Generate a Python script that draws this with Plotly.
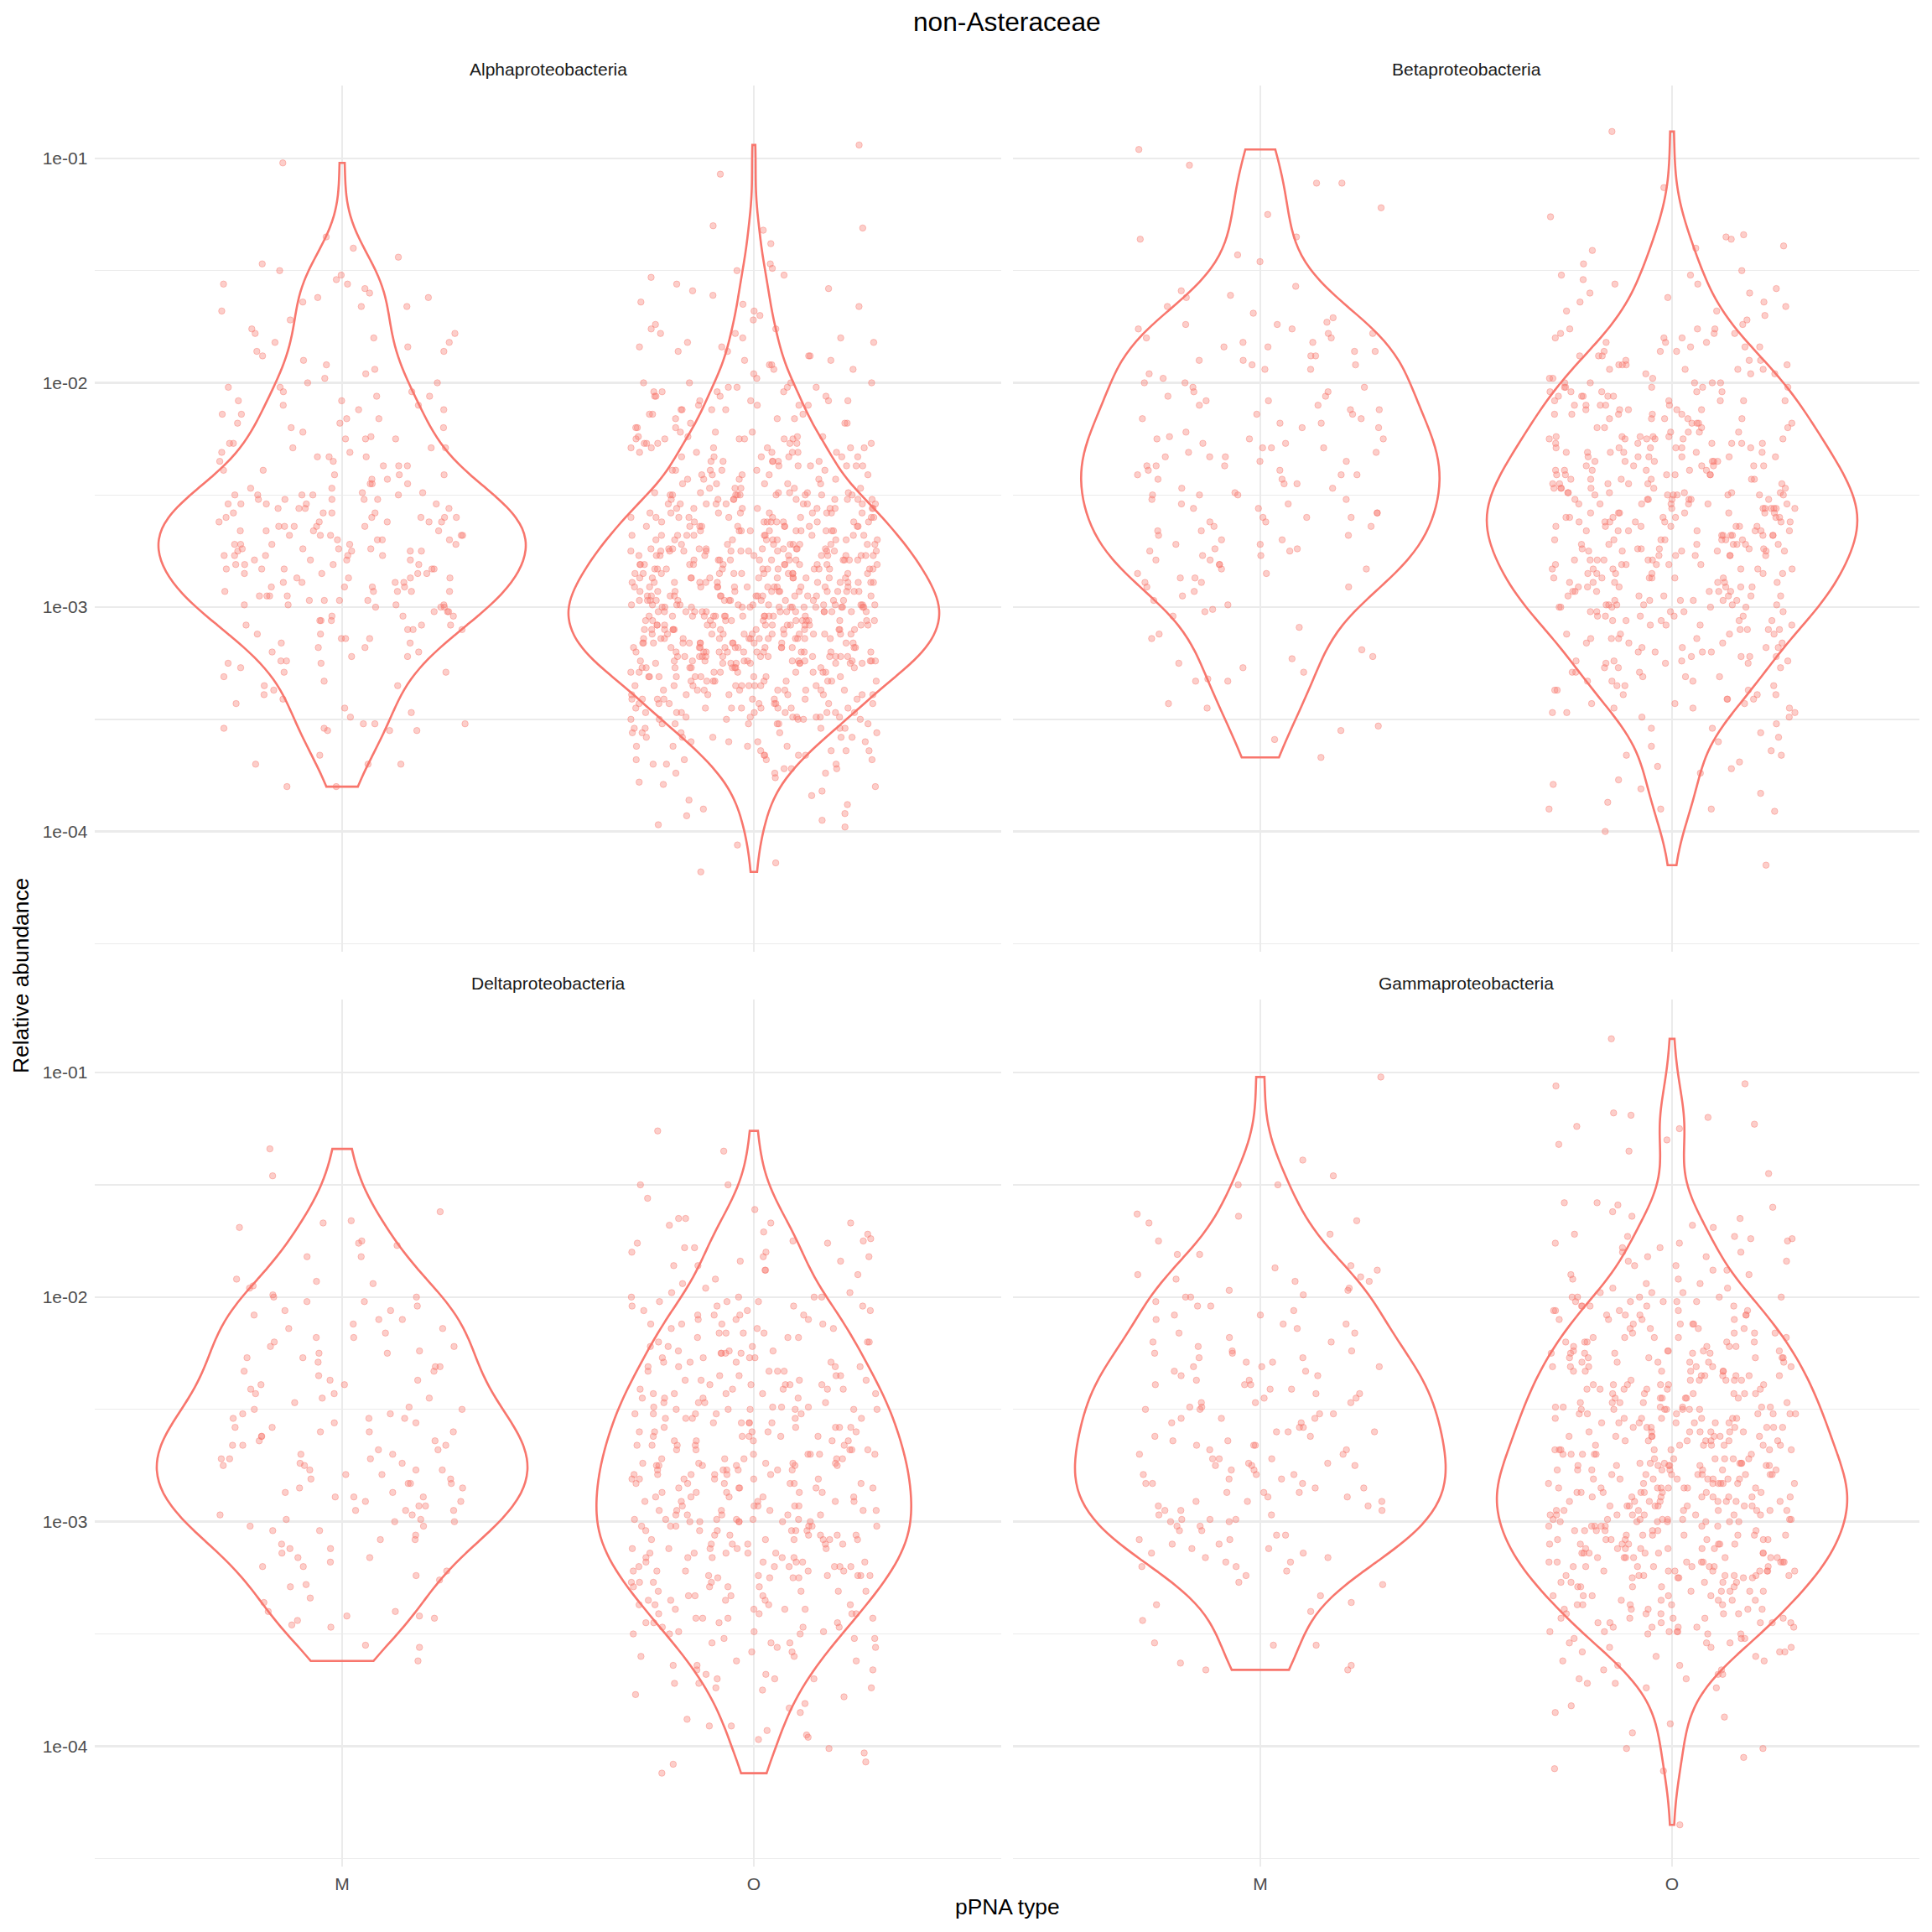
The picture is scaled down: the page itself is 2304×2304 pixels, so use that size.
import numpy as np
import plotly.graph_objects as go

# ---------------- data (log10 relative abundance, number of samples at that level) ----------------
facets = ["Alphaproteobacteria", "Betaproteobacteria", "Deltaproteobacteria", "Gammaproteobacteria"]
categories = ["M", "O"]
y_tickvals = [-4, -3, -2, -1]
y_ticktext = ["1e-04", "1e-03", "1e-02", "1e-01"]
y_minor = [-4.5, -3.5, -2.5, -1.5]

alpha_M = [
 (-1.02,1),(-1.35,1),(-1.40,1),(-1.44,1),(-1.47,1),
 (-1.50,1),(-1.52,1),(-1.54,1),(-1.56,2),(-1.58,1),(-1.60,1),(-1.62,2),(-1.64,1),(-1.66,2),(-1.68,1),(-1.72,1),
 (-1.76,1),(-1.78,2),(-1.80,1),(-1.82,2),(-1.84,1),(-1.86,2),(-1.88,1),(-1.90,1),(-1.92,1),(-1.94,1),(-1.96,1),(-1.98,1),
 (-2.00,2),(-2.02,2),(-2.04,2),(-2.06,2),(-2.08,2),(-2.10,2),(-2.12,2),(-2.14,2),(-2.16,2),(-2.18,2),(-2.20,2),(-2.22,1),(-2.24,1),
 (-2.25,3),(-2.27,2),(-2.29,3),(-2.31,2),(-2.33,3),(-2.35,2),(-2.37,3),(-2.39,2),(-2.41,3),(-2.43,2),(-2.45,3),(-2.47,2),(-2.49,2),
 (-2.50,5),(-2.52,5),(-2.54,5),(-2.56,4),(-2.58,4),(-2.60,5),(-2.62,5),(-2.64,5),(-2.66,4),(-2.68,5),(-2.70,4),(-2.72,5),(-2.74,4),
 (-2.75,4),(-2.77,5),(-2.79,4),(-2.81,4),(-2.83,5),(-2.85,4),(-2.87,4),(-2.89,4),(-2.91,4),(-2.93,5),(-2.95,4),(-2.97,4),(-2.99,4),
 (-3.00,3),(-3.02,3),(-3.04,3),(-3.06,3),(-3.08,3),(-3.10,3),(-3.12,2),(-3.14,3),(-3.16,2),(-3.18,2),(-3.20,2),(-3.22,2),(-3.24,2),
 (-3.25,2),(-3.27,1),(-3.29,2),(-3.31,1),(-3.33,1),(-3.35,2),(-3.37,1),(-3.39,1),(-3.41,1),(-3.43,1),(-3.45,1),(-3.47,1),(-3.49,1),
 (-3.52,3),(-3.54,2),(-3.55,3),(-3.66,1),(-3.70,3),(-3.80,2),
]

alpha_O = [
 (-0.94,1),(-1.07,1),
 (-1.30,1),(-1.31,1),(-1.32,1),(-1.38,1),(-1.47,1),(-1.49,1),(-1.50,1),
 (-1.52,1),(-1.53,1),(-1.56,1),(-1.58,1),(-1.59,1),(-1.61,1),(-1.64,1),(-1.65,1),(-1.66,1),(-1.68,1),(-1.70,1),(-1.72,1),(-1.74,1),
 (-1.76,2),(-1.78,2),(-1.80,2),(-1.82,2),(-1.84,2),(-1.86,2),(-1.88,2),(-1.90,2),(-1.92,2),(-1.94,2),(-1.96,1),(-1.98,1),
 (-2.00,4),(-2.02,4),(-2.04,4),(-2.06,4),(-2.08,4),(-2.10,4),(-2.12,4),(-2.14,3),(-2.16,3),(-2.18,3),(-2.20,3),(-2.22,3),(-2.24,4),
 (-2.25,6),(-2.27,6),(-2.29,6),(-2.31,6),(-2.33,6),(-2.35,6),(-2.37,6),(-2.39,6),(-2.41,5),(-2.43,5),(-2.45,5),(-2.47,5),(-2.49,6),
 (-2.50,9),(-2.52,9),(-2.54,9),(-2.56,9),(-2.58,9),(-2.60,9),(-2.62,10),(-2.64,10),(-2.66,10),(-2.68,10),(-2.70,9),(-2.72,9),(-2.74,10),
 (-2.75,12),(-2.77,12),(-2.79,12),(-2.81,12),(-2.83,12),(-2.85,12),(-2.87,12),(-2.89,12),(-2.91,13),(-2.93,13),(-2.95,13),(-2.97,13),(-2.99,12),
 (-3.00,14),(-3.02,14),(-3.04,14),(-3.06,13),(-3.08,13),(-3.10,13),(-3.12,13),(-3.14,13),(-3.16,13),(-3.18,13),(-3.20,13),(-3.22,13),(-3.24,13),
 (-3.25,10),(-3.27,10),(-3.29,9),(-3.31,9),(-3.33,9),(-3.35,9),(-3.37,9),(-3.39,8),(-3.41,8),(-3.43,8),(-3.45,8),(-3.47,8),(-3.49,7),
 (-3.50,6),(-3.52,6),(-3.54,5),(-3.56,5),(-3.58,5),(-3.60,4),(-3.62,4),(-3.64,4),(-3.66,4),(-3.68,4),(-3.70,3),(-3.72,3),(-3.74,3),
 (-3.76,1),(-3.78,1),(-3.79,1),(-3.80,1),(-3.82,1),(-3.84,1),(-3.86,1),(-3.88,1),(-3.90,1),(-3.92,1),(-3.93,1),(-3.95,1),(-3.97,1),(-3.98,1),
 (-4.06,1),(-4.14,1),(-4.18,1),
]

beta_M = [
 (-0.96,1),(-1.03,1),(-1.11,2),(-1.22,1),(-1.25,1),
 (-1.35,1),(-1.36,1),(-1.43,1),(-1.46,1),
 (-1.57,1),(-1.59,1),(-1.61,1),(-1.62,1),(-1.66,1),(-1.69,1),(-1.71,1),(-1.73,1),(-1.74,2),
 (-1.76,2),(-1.78,2),(-1.80,2),(-1.82,2),(-1.84,2),(-1.86,2),(-1.88,2),(-1.90,2),(-1.92,2),(-1.94,2),(-1.96,1),(-1.98,1),
 (-2.00,2),(-2.02,2),(-2.04,2),(-2.06,2),(-2.08,2),(-2.10,2),(-2.12,2),(-2.14,2),(-2.16,2),(-2.18,2),(-2.20,2),(-2.22,1),(-2.24,1),
 (-2.25,3),(-2.27,2),(-2.29,3),(-2.31,2),(-2.33,3),(-2.35,2),(-2.37,3),(-2.39,2),(-2.41,3),(-2.43,2),(-2.45,2),(-2.47,2),(-2.49,1),
 (-2.50,3),(-2.52,2),(-2.54,2),(-2.56,2),(-2.58,2),(-2.60,3),(-2.62,2),(-2.64,2),(-2.66,2),(-2.68,2),(-2.70,2),(-2.72,2),(-2.74,2),
 (-2.75,2),(-2.77,2),(-2.79,2),(-2.81,2),(-2.83,2),(-2.85,2),(-2.87,2),(-2.89,2),(-2.91,2),(-2.93,1),(-2.95,1),(-2.97,1),(-2.99,1),
 (-3.01,1),(-3.02,1),(-3.04,1),(-3.09,1),(-3.12,1),(-3.14,1),(-3.19,1),(-3.22,1),(-3.23,1),(-3.25,1),
 (-3.27,1),(-3.29,1),(-3.32,1),(-3.33,2),(-3.43,1),(-3.45,1),
 (-3.53,1),(-3.55,1),(-3.59,1),(-3.67,1),
]

beta_O = [
 (-0.88,1),(-1.13,1),
 (-1.26,1),(-1.34,1),(-1.35,1),(-1.36,1),(-1.39,1),(-1.40,1),(-1.41,1),(-1.47,1),(-1.50,1),
 (-1.52,2),(-1.54,1),(-1.56,2),(-1.58,1),(-1.60,2),(-1.62,1),(-1.64,2),(-1.66,1),(-1.68,2),(-1.70,1),(-1.72,1),(-1.74,1),
 (-1.76,3),(-1.78,3),(-1.80,3),(-1.82,3),(-1.84,3),(-1.86,3),(-1.88,3),(-1.90,3),(-1.92,4),(-1.94,4),(-1.96,3),(-1.98,3),
 (-2.00,5),(-2.02,5),(-2.04,5),(-2.06,5),(-2.08,5),(-2.10,5),(-2.12,5),(-2.14,5),(-2.16,5),(-2.18,4),(-2.20,4),(-2.22,4),(-2.24,5),
 (-2.25,6),(-2.27,6),(-2.29,6),(-2.31,6),(-2.33,6),(-2.35,6),(-2.37,6),(-2.39,6),(-2.41,6),(-2.43,6),(-2.45,6),(-2.47,6),(-2.49,6),
 (-2.50,7),(-2.52,7),(-2.54,7),(-2.56,7),(-2.58,7),(-2.60,7),(-2.62,7),(-2.64,7),(-2.66,7),(-2.68,7),(-2.70,7),(-2.72,7),(-2.74,6),
 (-2.75,6),(-2.77,6),(-2.79,6),(-2.81,6),(-2.83,6),(-2.85,6),(-2.87,6),(-2.89,6),(-2.91,6),(-2.93,6),(-2.95,6),(-2.97,6),(-2.99,6),
 (-3.00,5),(-3.02,5),(-3.04,5),(-3.06,5),(-3.08,4),(-3.10,4),(-3.12,4),(-3.14,4),(-3.16,4),(-3.18,4),(-3.20,4),(-3.22,4),(-3.24,4),
 (-3.25,3),(-3.27,3),(-3.29,3),(-3.31,3),(-3.33,3),(-3.35,3),(-3.37,3),(-3.39,3),(-3.41,3),(-3.43,3),(-3.45,3),(-3.47,3),(-3.49,2),
 (-3.52,1),(-3.54,2),(-3.56,1),(-3.58,1),(-3.60,1),(-3.62,1),(-3.64,1),(-3.66,2),(-3.69,1),(-3.71,1),(-3.72,1),(-3.74,1),
 (-3.77,1),(-3.79,1),(-3.81,1),(-3.83,1),(-3.87,1),(-3.90,3),(-3.91,1),
 (-4.00,1),(-4.15,1),
]

delta_M = [
 (-1.34,1),(-1.46,1),
 (-1.62,1),(-1.66,1),(-1.67,1),(-1.69,1),(-1.75,1),
 (-1.76,1),(-1.77,1),(-1.82,2),(-1.92,1),(-1.93,1),(-1.94,1),(-1.95,1),(-1.96,1),(-1.99,1),
 (-2.00,2),(-2.02,2),(-2.04,1),(-2.06,2),(-2.08,1),(-2.10,2),(-2.12,1),(-2.14,2),(-2.16,1),(-2.18,2),(-2.20,1),(-2.22,2),(-2.24,1),
 (-2.25,2),(-2.27,2),(-2.29,1),(-2.31,2),(-2.33,2),(-2.35,1),(-2.37,2),(-2.39,2),(-2.41,1),(-2.43,2),(-2.45,2),(-2.47,1),(-2.49,1),
 (-2.50,2),(-2.52,2),(-2.54,3),(-2.56,2),(-2.58,2),(-2.60,3),(-2.62,2),(-2.64,2),(-2.66,3),(-2.68,2),(-2.70,2),(-2.72,3),(-2.74,2),
 (-2.75,2),(-2.77,3),(-2.79,2),(-2.81,2),(-2.83,3),(-2.85,2),(-2.87,2),(-2.89,3),(-2.91,2),(-2.93,2),(-2.95,3),(-2.97,2),(-2.99,2),
 (-3.00,2),(-3.02,2),(-3.04,2),(-3.06,1),(-3.08,2),(-3.10,1),(-3.12,2),(-3.14,1),(-3.16,2),(-3.18,1),(-3.20,2),(-3.22,1),(-3.24,1),
 (-3.26,1),(-3.28,1),(-3.29,1),(-3.34,1),(-3.36,1),(-3.40,2),(-3.42,2),(-3.43,1),(-3.44,1),(-3.46,1),(-3.47,1),
 (-3.55,1),(-3.56,1),(-3.62,1),
]

delta_O = [
 (-1.26,1),(-1.35,1),(-1.50,2),
 (-1.56,1),(-1.61,1),(-1.65,2),(-1.67,2),(-1.68,1),(-1.71,1),(-1.72,1),(-1.74,1),(-1.75,2),
 (-1.76,2),(-1.78,2),(-1.80,2),(-1.82,2),(-1.84,2),(-1.86,2),(-1.88,2),(-1.90,1),(-1.92,1),(-1.94,1),(-1.96,1),(-1.98,2),
 (-2.00,4),(-2.02,3),(-2.04,4),(-2.06,3),(-2.08,4),(-2.10,3),(-2.12,4),(-2.14,3),(-2.16,4),(-2.18,3),(-2.20,3),(-2.22,3),(-2.24,3),
 (-2.25,4),(-2.27,4),(-2.29,4),(-2.31,4),(-2.33,4),(-2.35,4),(-2.37,4),(-2.39,5),(-2.41,5),(-2.43,5),(-2.45,4),(-2.47,4),(-2.49,4),
 (-2.50,6),(-2.52,5),(-2.54,5),(-2.56,5),(-2.58,5),(-2.60,5),(-2.62,5),(-2.64,5),(-2.66,5),(-2.68,5),(-2.70,5),(-2.72,5),(-2.74,5),
 (-2.75,6),(-2.77,6),(-2.79,6),(-2.81,6),(-2.83,6),(-2.85,5),(-2.87,5),(-2.89,5),(-2.91,5),(-2.93,5),(-2.95,6),(-2.97,5),(-2.99,6),
 (-3.00,6),(-3.02,6),(-3.04,6),(-3.06,6),(-3.08,6),(-3.10,5),(-3.12,5),(-3.14,5),(-3.16,5),(-3.18,5),(-3.20,6),(-3.22,5),(-3.24,6),
 (-3.25,4),(-3.27,4),(-3.29,4),(-3.31,4),(-3.33,4),(-3.35,4),(-3.37,4),(-3.39,4),(-3.41,4),(-3.43,4),(-3.45,4),(-3.47,3),(-3.49,3),
 (-3.50,3),(-3.52,3),(-3.54,3),(-3.56,2),(-3.58,2),(-3.60,2),(-3.62,2),(-3.64,2),(-3.66,2),(-3.68,2),(-3.70,3),(-3.72,2),(-3.74,2),
 (-3.75,1),(-3.77,1),(-3.78,1),(-3.81,1),(-3.83,1),(-3.85,1),(-3.88,1),(-3.91,2),(-3.93,1),(-3.95,1),(-3.96,1),(-3.97,1),
 (-4.01,1),(-4.03,1),(-4.07,1),(-4.08,1),(-4.12,1),
]

gamma_M = [
 (-1.02,1),(-1.39,1),(-1.46,1),(-1.50,2),
 (-1.63,1),(-1.64,1),(-1.66,1),(-1.67,1),(-1.72,1),(-1.75,1),
 (-1.81,2),(-1.86,1),(-1.87,1),(-1.88,1),(-1.90,1),(-1.91,1),(-1.92,1),(-1.93,2),(-1.96,1),(-1.97,2),(-1.99,1),
 (-2.00,2),(-2.02,1),(-2.04,2),(-2.06,1),(-2.08,2),(-2.10,1),(-2.12,2),(-2.14,1),(-2.16,2),(-2.18,1),(-2.20,2),(-2.22,1),(-2.24,2),
 (-2.25,2),(-2.27,2),(-2.29,2),(-2.31,3),(-2.33,2),(-2.35,2),(-2.37,2),(-2.39,3),(-2.41,2),(-2.43,2),(-2.45,2),(-2.47,3),(-2.49,2),
 (-2.50,2),(-2.52,2),(-2.54,3),(-2.56,2),(-2.58,2),(-2.60,3),(-2.62,2),(-2.64,2),(-2.66,3),(-2.68,2),(-2.70,2),(-2.72,3),(-2.74,2),
 (-2.75,3),(-2.77,2),(-2.79,3),(-2.81,2),(-2.83,3),(-2.85,2),(-2.87,3),(-2.89,2),(-2.91,3),(-2.93,2),(-2.95,3),(-2.97,2),(-2.99,3),
 (-3.00,2),(-3.02,2),(-3.04,2),(-3.06,2),(-3.08,2),(-3.10,2),(-3.12,2),(-3.14,2),(-3.16,2),(-3.18,2),(-3.20,2),(-3.22,1),(-3.24,1),
 (-3.27,1),(-3.28,1),(-3.33,1),(-3.36,1),(-3.37,1),(-3.40,1),(-3.44,1),
 (-3.54,1),(-3.55,2),(-3.63,1),(-3.64,1),(-3.66,2),
]

gamma_O = [
 (-0.85,1),
 (-1.05,1),(-1.06,1),(-1.18,1),(-1.19,1),(-1.20,1),(-1.23,1),(-1.24,1),(-1.25,1),
 (-1.30,1),(-1.32,1),(-1.35,1),(-1.45,1),
 (-1.58,2),(-1.59,1),(-1.60,1),(-1.62,1),(-1.64,1),(-1.65,1),(-1.68,1),(-1.69,1),(-1.72,1),(-1.73,2),(-1.74,2),(-1.75,1),
 (-1.76,2),(-1.78,2),(-1.80,2),(-1.82,2),(-1.84,2),(-1.86,2),(-1.88,2),(-1.90,2),(-1.92,2),(-1.94,2),(-1.96,2),(-1.98,3),
 (-2.00,5),(-2.02,5),(-2.04,5),(-2.06,5),(-2.08,5),(-2.10,4),(-2.12,4),(-2.14,4),(-2.16,4),(-2.18,5),(-2.20,5),(-2.22,4),(-2.24,5),
 (-2.25,6),(-2.27,6),(-2.29,6),(-2.31,6),(-2.33,6),(-2.35,6),(-2.37,6),(-2.39,6),(-2.41,6),(-2.43,6),(-2.45,6),(-2.47,5),(-2.49,6),
 (-2.50,7),(-2.52,7),(-2.54,7),(-2.56,7),(-2.58,7),(-2.60,7),(-2.62,7),(-2.64,7),(-2.66,7),(-2.68,7),(-2.70,6),(-2.72,6),(-2.74,6),
 (-2.75,8),(-2.77,8),(-2.79,8),(-2.81,8),(-2.83,8),(-2.85,8),(-2.87,8),(-2.89,8),(-2.91,8),(-2.93,8),(-2.95,8),(-2.97,8),(-2.99,8),
 (-3.00,7),(-3.02,7),(-3.04,7),(-3.06,7),(-3.08,7),(-3.10,7),(-3.12,7),(-3.14,7),(-3.16,7),(-3.18,8),(-3.20,8),(-3.22,8),(-3.24,7),
 (-3.25,5),(-3.27,5),(-3.29,5),(-3.31,5),(-3.33,5),(-3.35,5),(-3.37,5),(-3.39,5),(-3.41,5),(-3.43,5),(-3.45,6),(-3.47,5),(-3.49,5),
 (-3.50,3),(-3.52,3),(-3.54,3),(-3.56,3),(-3.58,3),(-3.60,2),(-3.62,2),(-3.64,2),(-3.66,2),(-3.68,2),(-3.70,2),(-3.72,2),(-3.74,2),
 (-3.82,1),(-3.85,1),(-3.87,1),(-3.90,1),(-3.94,1),
 (-4.01,2),(-4.05,1),(-4.10,1),(-4.11,1),(-4.35,1),
]

groups = {
    "Alphaproteobacteria": {"M": alpha_M, "O": alpha_O},
    "Betaproteobacteria": {"M": beta_M, "O": beta_O},
    "Deltaproteobacteria": {"M": delta_M, "O": delta_O},
    "Gammaproteobacteria": {"M": gamma_M, "O": gamma_O},
}

# ---------------- styling / layout constants ----------------
W = H = 2304
RED = "#F8766D"
GRID = "#EBEBEB"
FONT = "Liberation Sans, Arial, Helvetica, sans-serif"
PANEL_X = [(113.4, 1193.6), (1208.4, 2288.6)]   # px, columns
PANEL_Y = [(102.0, 1135.0), (1192.0, 2226.0)]   # px, rows (top, bottom)
Y_RANGE = [-4.536, -0.675]
X_RANGE = [-0.6, 1.6]
JITTER = 0.3
VIOLIN_WIDTH = 0.9


def expand(pairs):
    return np.repeat(np.array([p[0] for p in pairs], float), [p[1] for p in pairs])


def nrd0(x):
    x = np.asarray(x, float)
    sd = np.std(x, ddof=1)
    q75, q25 = np.percentile(x, [75, 25])
    lo = min(sd, (q75 - q25) / 1.34)
    if lo <= 0:
        lo = sd
    return 0.9 * lo * len(x) ** (-0.2)


def kde_max(x, bw):
    # peak of the gaussian density over the (trimmed) data range
    grid = np.linspace(x.min(), x.max(), 512)
    z = (grid[:, None] - x[None, :]) / bw
    dens = np.exp(-0.5 * z * z).sum(axis=1) / (len(x) * bw * np.sqrt(2 * np.pi))
    return dens.max()


def jitter_offsets(n, seed):
    k = np.arange(1, n + 1, dtype=float)
    u = np.modf(np.abs(np.sin(k * 12.9898 + seed * 78.233) * 43758.5453))[0]
    return (2.0 * u - 1.0) * JITTER


fig = go.Figure()
layout_axes = {}
annotations = []

for i, facet in enumerate(facets):
    row, col = divmod(i, 2)
    s = "" if i == 0 else str(i + 1)
    xa, ya = "x" + s, "y" + s
    x0p, x1p = PANEL_X[col]
    y0p, y1p = PANEL_Y[row]

    vals = {c: expand(groups[facet][c]) for c in categories}
    bws = {c: nrd0(vals[c]) for c in categories}
    peaks = {c: kde_max(vals[c], bws[c]) for c in categories}
    top_peak = max(peaks.values())   # "area" scaling within a panel

    for j, cat in enumerate(categories):
        v = vals[cat]
        fig.add_trace(go.Violin(
            x=np.full(len(v), j, dtype=float), y=v,
            xaxis=xa, yaxis=ya,
            width=VIOLIN_WIDTH * peaks[cat] / top_peak, scalemode="width",
            spanmode="hard", bandwidth=bws[cat],
            points=False, box_visible=False, meanline_visible=False,
            line=dict(color=RED, width=2.6), fillcolor="rgba(0,0,0,0)",
            showlegend=False, hoverinfo="skip", name=f"{facet} {cat}",
        ))
    for j, cat in enumerate(categories):
        v = vals[cat]
        fig.add_trace(go.Scatter(
            x=j + jitter_offsets(len(v), 10 * i + j + 1), y=v,
            xaxis=xa, yaxis=ya, mode="markers",
            marker=dict(size=7.5, color="rgba(248,118,109,0.36)",
                        line=dict(width=1, color="rgba(248,118,109,0.42)")),
            showlegend=False, hoverinfo="skip",
        ))

    layout_axes["xaxis" + s] = dict(
        domain=[x0p / W, x1p / W], anchor=ya, range=X_RANGE,
        tickmode="array", tickvals=[0, 1], ticktext=categories,
        showticklabels=(row == 1), ticks="", ticklabelstandoff=6,
        tickfont=dict(family=FONT, size=21, color="#4D4D4D"),
        showgrid=True, gridcolor=GRID, gridwidth=2.6,
        zeroline=False, showline=False, automargin=False, fixedrange=True,
    )
    layout_axes["yaxis" + s] = dict(
        domain=[1 - y1p / H, 1 - y0p / H], anchor=xa, range=Y_RANGE,
        tickmode="array", tickvals=y_tickvals, ticktext=y_ticktext,
        showticklabels=(col == 0), ticks="", ticklabelstandoff=8,
        tickfont=dict(family=FONT, size=21, color="#4D4D4D"),
        showgrid=True, gridcolor=GRID, gridwidth=2.6,
        minor=dict(tickmode="array", tickvals=y_minor, showgrid=True,
                   gridcolor=GRID, gridwidth=1.4, ticks=""),
        zeroline=False, showline=False, automargin=False, fixedrange=True,
    )
    annotations.append(dict(
        text=facet, x=(x0p + x1p) / 2 / W, y=1 - (y0p - 20) / H,
        xref="paper", yref="paper", xanchor="center", yanchor="middle",
        showarrow=False, font=dict(family=FONT, size=21, color="#1A1A1A"),
    ))

panel_cx = (PANEL_X[0][0] + PANEL_X[1][1]) / 2
panel_cy = (PANEL_Y[0][0] + PANEL_Y[1][1]) / 2
annotations += [
    dict(text="non-Asteraceae", x=panel_cx / W, y=1 - 26 / H, xref="paper", yref="paper",
         xanchor="center", yanchor="middle", showarrow=False,
         font=dict(family=FONT, size=31.7, color="#000000")),
    dict(text="pPNA type", x=panel_cx / W, y=1 - 2274 / H, xref="paper", yref="paper",
         xanchor="center", yanchor="middle", showarrow=False,
         font=dict(family=FONT, size=26.4, color="#000000")),
    dict(text="Relative abundance", x=25 / W, y=1 - panel_cy / H, xref="paper", yref="paper",
         xanchor="center", yanchor="middle", textangle=-90, showarrow=False,
         font=dict(family=FONT, size=26.4, color="#000000")),
]

fig.update_layout(
    width=W, height=H, margin=dict(l=0, r=0, t=0, b=0),
    paper_bgcolor="white", plot_bgcolor="white",
    violinmode="overlay", showlegend=False,
    annotations=annotations, font=dict(family=FONT),
    **layout_axes,
)

fig.write_html("out.html", include_plotlyjs=True, config={"displayModeBar": False, "staticPlot": True})
